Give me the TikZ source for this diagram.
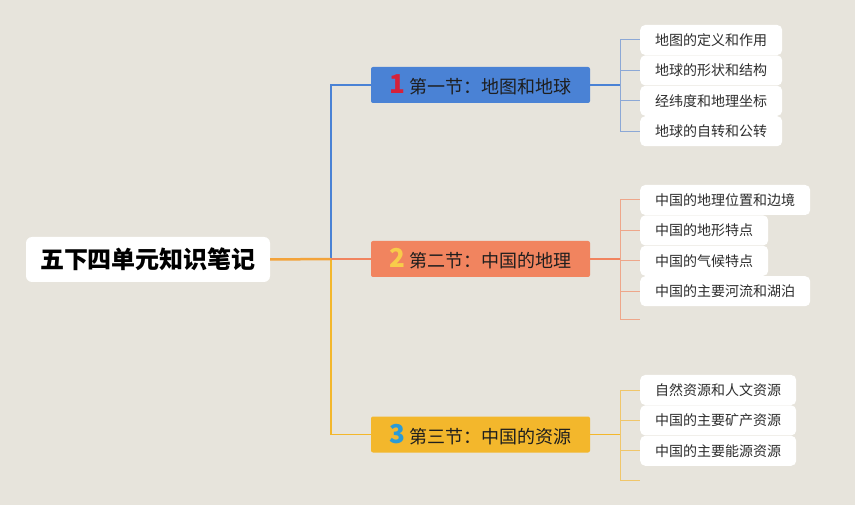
\documentclass[tikz,border=0pt]{standalone}
\usepackage{fontspec}
\usetikzlibrary{positioning}
\newfontfamily\cjk{Noto Sans CJK SC}
\definecolor{PaperBg}{RGB}{231,228,220}
\definecolor{SecBlue}{RGB}{74,130,213}
\definecolor{SecSalmon}{RGB}{241,132,95}
\definecolor{SecYellow}{RGB}{243,183,44}
\definecolor{LeafBlue}{RGB}{140,168,214}
\definecolor{LeafSalmon}{RGB}{238,166,138}
\definecolor{LeafYellow}{RGB}{240,198,106}
\definecolor{RootOrange}{RGB}{243,163,58}
\definecolor{NumRed}{RGB}{214,33,58}
\definecolor{NumYellow}{RGB}{248,204,74}
\definecolor{NumBlue}{RGB}{43,155,214}
\definecolor{TextDark}{RGB}{30,30,30}
\definecolor{LeafText}{RGB}{45,45,45}
\newcommand\secno[2]{{\color{#1}\bfseries\fontsize{26}{26}\selectfont #2}\hspace{5pt}}
\tikzset{
  rootnode/.style={fill=white,rounded corners=6pt,minimum width=244pt,minimum height=45pt,font=\cjk\bfseries\fontsize{24}{26}\selectfont,text=black},
  secnode/.style={rounded corners=2pt,minimum width=219pt,minimum height=36pt,inner sep=0pt,font=\cjk\fontsize{18}{20}\selectfont,text=TextDark},
  leafnode/.style={fill=white,rounded corners=5pt,minimum height=30pt,inner xsep=15pt,inner ysep=0pt,font=\cjk\fontsize{14}{16}\selectfont,text=LeafText,anchor=west},
  rootline/.style={line width=2.5pt,draw=RootOrange},
  trunkblue/.style={line width=1.6pt,draw=SecBlue},
  trunksalmon/.style={line width=2.5pt,draw=SecSalmon},
  trunkyellow/.style={line width=1.6pt,draw=SecYellow},
  leafblue/.style={line width=1pt,draw=LeafBlue},
  leafsalmon/.style={line width=1pt,draw=LeafSalmon},
  leafyellow/.style={line width=1pt,draw=LeafYellow}
}
\begin{document}
\begin{tikzpicture}[x=1pt,y=-1pt]
\fill[PaperBg] (0,0) rectangle (855,505);
\useasboundingbox (0,0) rectangle (855,505);

\node[rootnode] (root) at (148,259.5) {五下四单元知识笔记};

\node[secnode,fill=SecBlue] (s1) at (480.5,85) {\secno{NumRed}{1}第一节：地图和地球};
\node[secnode,fill=SecSalmon] (s2) at (480.5,259) {\secno{NumYellow}{2}第二节：中国的地理};
\node[secnode,fill=SecYellow] (s3) at (480.5,434.5) {\secno{NumBlue}{3}第三节：中国的资源};

% section 1
\node[leafnode] (l11) at (640,40) {地图的定义和作用};
\node[leafnode,below=0pt of l11.south west,anchor=north west] (l12) {地球的形状和结构};
\node[leafnode,below=0pt of l12.south west,anchor=north west] (l13) {经纬度和地理坐标};
\node[leafnode,below=0pt of l13.south west,anchor=north west] (l14) {地球的自转和公转};

% section 2
\node[leafnode] (l21) at (640,200) {中国的地理位置和边境};
\node[leafnode,below=0pt of l21.south west,anchor=north west] (l22) {中国的地形特点};
\node[leafnode,below=0pt of l22.south west,anchor=north west] (l23) {中国的气候特点};
\node[leafnode,below=0pt of l23.south west,anchor=north west] (l24) {中国的主要河流和湖泊};
\coordinate (e2) at (640,319.5);

% section 3
\node[leafnode] (l31) at (640,390) {自然资源和人文资源};
\node[leafnode,below=0pt of l31.south west,anchor=north west] (l32) {中国的主要矿产资源};
\node[leafnode,below=0pt of l32.south west,anchor=north west] (l33) {中国的主要能源资源};
\coordinate (e3) at (640,480);

% trunk
\coordinate (trunk) at (331,259);
\draw[trunkblue] (trunk) |- (s1.west);
\draw[trunkyellow] (trunk) |- (s3.west);
\draw[trunksalmon] (trunk) -- (s2.west);
\draw[rootline] (root.east) -- (trunk);

% branches
\coordinate (b1) at (620.5,85);
\coordinate (b2) at (620.5,259);
\coordinate (b3) at (620.5,434.5);
\draw[trunkblue] (s1.east) -- (b1);
\draw[trunksalmon,line width=1.6pt] (s2.east) -- (b2);
\draw[trunkyellow] (s3.east) -- (b3);
\draw[leafblue] (b1) |- (l11.west) (b1) |- (l12.west) (b1) |- (l13.west) (b1) |- (l14.west);
\draw[leafsalmon] (b2) |- (l21.west) (b2) |- (l22.west) (b2) |- (l23.west) (b2) |- (l24.west) (b2) |- (e2);
\draw[leafyellow] (b3) |- (l31.west) (b3) |- (l32.west) (b3) |- (l33.west) (b3) |- (e3);
\end{tikzpicture}
\end{document}
